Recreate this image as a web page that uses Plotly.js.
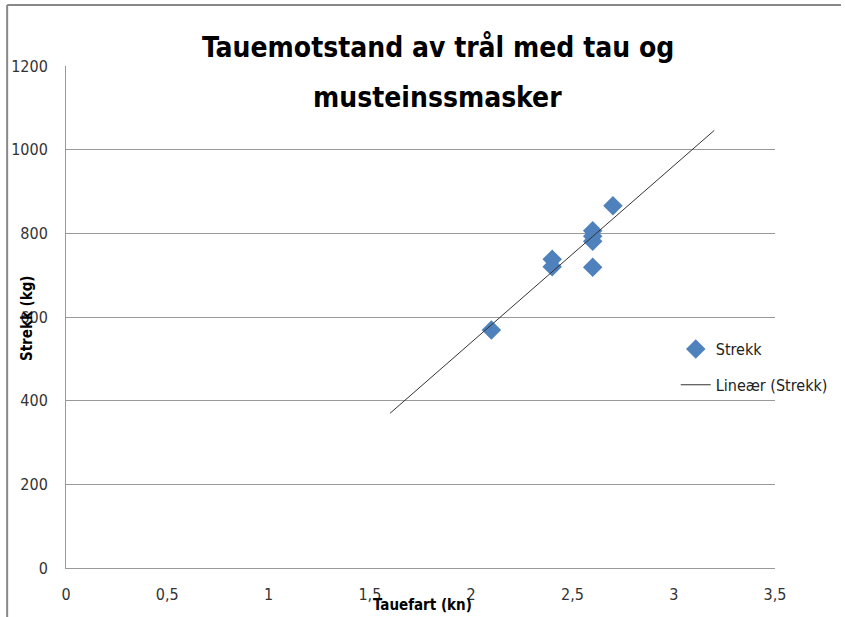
<!DOCTYPE html>
<html>
<head>
<meta charset="utf-8">
<script src="https://cdn.plot.ly/plotly-3.0.1.min.js"></script>
<style>html,body{margin:0;padding:0;background:#fff;}#chart{width:845px;height:617px;}</style>
</head>
<body>
<div id="chart"></div>
<script>
const speed = [2.1, 2.4, 2.4, 2.6, 2.6, 2.6, 2.6, 2.7];
const strekk = [569, 738, 720, 806, 793, 781, 719, 866];
const trendX = [1.6, 3.2];
const trendY = [370, 1046];
const xTicks = [0, 0.5, 1, 1.5, 2, 2.5, 3, 3.5];
const xTickLabels = ['0', '0,5', '1', '1,5', '2', '2,5', '3', '3,5'];
const yTicks = [0, 200, 400, 600, 800, 1000, 1200];
const titleLines = ['Tauemotstand av trål med tau og', 'musteinssmasker'];

const FONT = '"Liberation Sans Narrow", "DejaVu Sans Condensed", "Open Sans", sans-serif';

const traces = [
  {
    x: speed, y: strekk, type: 'scatter', mode: 'markers', name: 'Strekk', legendgroup: 'a',
    marker: {symbol: 'diamond', size: 15, color: '#4F81BD', line: {width: 0}}
  },
  {
    x: trendX, y: trendY, type: 'scatter', mode: 'lines', name: 'Lineær (Strekk)', legendgroup: 'b',
    line: {color: '#333333', width: 1}
  }
];

const layout = {
  width: 845, height: 617,
  margin: {l: 66, r: 68, t: 66, b: 49},
  paper_bgcolor: '#fff', plot_bgcolor: '#fff',
  font: {family: FONT, size: 16, color: '#222'},
  xaxis: {
    range: [0, 3.5], tickvals: xTicks, ticktext: xTickLabels,
    showgrid: false, zeroline: false, showline: true, linecolor: '#999', linewidth: 1,
    ticks: 'outside', ticklen: 12, tickcolor: 'rgba(0,0,0,0)', tickfont: {size: 16, color: '#333'}
  },
  yaxis: {
    range: [0, 1200], tickvals: yTicks,
    showgrid: true, gridcolor: '#999', gridwidth: 1, zeroline: false,
    showline: true, linecolor: '#999', linewidth: 1,
    ticks: 'outside', ticklen: 14, tickcolor: 'rgba(0,0,0,0)', tickfont: {size: 16, color: '#333'}
  },
  annotations: [
    {text: '<b>' + titleLines[0] + '</b>', xref: 'paper', yref: 'paper', x: 0.5246, y: 1.0359,
     xanchor: 'center', yanchor: 'middle', showarrow: false, font: {size: 28, color: '#000'}},
    {text: '<b>' + titleLines[1] + '</b>', xref: 'paper', yref: 'paper', x: 0.5246, y: 0.9382,
     xanchor: 'center', yanchor: 'middle', showarrow: false, font: {size: 28, color: '#000'}},
    {text: '<b>Tauefart (kn)</b>', xref: 'paper', yref: 'paper', x: 0.5035, y: -0.0737,
     xanchor: 'center', yanchor: 'middle', showarrow: false, font: {size: 15, color: '#000'}},
    {text: '<b>Strekk (kg)</b>', xref: 'paper', yref: 'paper', x: -0.0549, y: 0.498,
     xanchor: 'center', yanchor: 'middle', textangle: -90, showarrow: false, font: {size: 15, color: '#000'}}
  ],
  showlegend: true,
  legend: {
    x: 0.86, y: 0.47, xanchor: 'left', yanchor: 'top',
    bgcolor: 'rgba(0,0,0,0)', font: {size: 16, color: '#222'}, tracegroupgap: 12
  },
  shapes: [
    {type: 'line', xref: 'paper', yref: 'paper', x0: -0.083, x1: 1.093, y0: 1.1215, y1: 1.1215,
     line: {color: '#888', width: 2}},
    {type: 'line', xref: 'paper', yref: 'paper', x0: -0.083, x1: -0.083, y0: 1.1215, y1: -0.1,
     line: {color: '#888', width: 2}}
  ]
};

Plotly.newPlot('chart', traces, layout, {displayModeBar: false, staticPlot: true});
</script>
</body>
</html>
